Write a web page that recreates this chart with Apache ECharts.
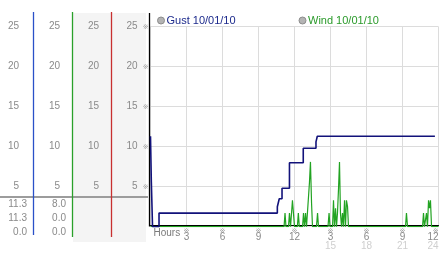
<!DOCTYPE html>
<html><head><meta charset="utf-8">
<script src="https://cdn.jsdelivr.net/npm/echarts@6/dist/echarts.min.js"></script>
<style>html,body{margin:0;padding:0;background:#fff}#c{width:442px;height:253px}</style>
</head><body><div id="c"></div>
<script>
// ---- data ----
const gustName = 'Gust 10/01/10';
const windName = 'Wind 10/01/10';
const yTicks = [5, 10, 15, 20, 25];
const hourTicks = [0, 3, 6, 9, 12, 15, 18, 21, 24];
const gustHours  = [0,    0.07, 0.17, 0.71, 10.57, 10.73, 10.96, 11.58, 12.73, 13.79, 13.9, 23.7];
const gustValues = [11.3, 5.6,  0,    1.7,  2.5,   3.5,   4.8,   8.0,   9.8,   10.6,  11.3, 11.3];
const windHours = [0, 11.13, 11.21, 11.29, 11.5, 11.58, 11.67, 11.75, 11.83, 11.92, 12.0,
  12.24, 12.32, 12.4, 12.67, 12.75, 12.83, 12.92, 13.0, 13.08, 13.25, 13.33, 13.42, 13.5,
  13.83, 13.92, 14.0, 14.79, 14.88, 14.96, 15.17, 15.25, 15.33, 15.42, 15.5, 15.58, 15.67,
  15.75, 15.83, 15.92, 16.0, 16.08, 16.17, 16.25, 16.33, 16.42, 16.5,
  21.25, 21.33, 21.42, 22.67, 22.75, 22.83, 22.92, 23.0, 23.08, 23.17, 23.25, 23.33, 23.42, 24];
const windValues = [0, 0, 1.7, 0, 0, 1.7, 0, 0, 3.3, 3.3, 0,
  0, 1.7, 0, 0, 1.7, 0, 1.7, 0, 0, 5.6, 8.1, 3.0, 0,
  0, 1.7, 0, 0, 1.7, 0, 0, 3.3, 0, 2.3, 0, 1.7, 4.8,
  8.1, 1.7, 0, 1.7, 0, 3.3, 0, 3.3, 2.5, 0,
  0, 1.7, 0, 0, 1.7, 0, 0, 1.7, 0, 3.3, 2.3, 3.3, 0, 0];
const gustSummary = ['11.3', '11.3', '0.0'];
const windSummary = ['8.0', '0.0', '0.0'];

// ---- chart ----
const FONT = 'Liberation Sans';
const LAB = '#8a8a8a';
const chart = echarts.init(document.getElementById('c'));
const pair = (xs, ys) => xs.map((x, i) => [x, ys[i]]);

function plainY(offset) {
  return {
    type: 'value', min: 0, max: 25, interval: 5, position: 'left', offset: offset,
    axisLine: {show: false}, axisTick: {show: false}, splitLine: {show: false},
    axisLabel: {margin: 0, color: LAB, fontSize: 10, fontFamily: FONT,
      formatter: v => yTicks.includes(v) ? String(v) : ''}
  };
}

const summaryTexts = [];
[[gustSummary, 27], [windSummary, 66]].forEach(([arr, xr]) => {
  arr.forEach((s, i) => summaryTexts.push({
    type: 'text', x: xr, y: 204 + i * 14, z: 5,
    style: {text: s, fill: LAB, font: '10px "Liberation Sans"', textAlign: 'right', textVerticalAlign: 'middle'}
  }));
});

const vline = (x, y1, y2, c, w) => ({type: 'line', z: 4, shape: {x1: x, y1: y1, x2: x, y2: y2}, style: {stroke: c, lineWidth: w || 1}});

const option = {
  animation: false,
  backgroundColor: '#fff',
  textStyle: {fontFamily: FONT},
  grid: {left: 150.5, right: 3.5, top: 26.7, bottom: 26.3},
  legend: [
    {data: [{name: gustName, itemStyle: {color: '#b4b4b4', borderColor: '#8c8c8c', borderWidth: 1}, textStyle: {color: '#1c2a8c'}}],
     left: 157, top: 15, padding: 0, icon: 'circle', itemWidth: 7, itemHeight: 7, selectedMode: false,
     textStyle: {fontSize: 11, fontFamily: FONT, padding: [0, 0, 0, -3]}},
    {data: [{name: windName, itemStyle: {color: '#b4b4b4', borderColor: '#8c8c8c', borderWidth: 1}, textStyle: {color: '#2a9a2a'}}],
     left: 298.5, top: 15, padding: 0, icon: 'circle', itemWidth: 7, itemHeight: 7, selectedMode: false,
     textStyle: {fontSize: 11, fontFamily: FONT, padding: [0, 0, 0, -3]}}
  ],
  xAxis: {
    type: 'value', min: 0, max: 24, interval: 3, offset: -1,
    axisLine: {lineStyle: {color: '#000', width: 1}},
    axisTick: {show: false},
    splitLine: {lineStyle: {color: '#dcdcdc'}},
    axisLabel: {
      margin: 3, alignMinLabel: 'left', alignMaxLabel: 'right',
      formatter: v => {
        if (!hourTicks.includes(v)) return '';
        if (v === 0) return '{h|Hours}';
        if (v <= 12) return '{m|※}\n{a|' + v + '}';
        return '{m|※}\n{a|' + (v - 12) + '}\n{b|' + v + '}';
      },
      rich: {
        h: {fontSize: 10, lineHeight: 9, color: '#7a7a7a', fontFamily: FONT, padding: [0, 0, 0, 3]},
        m: {fontSize: 7, lineHeight: 5, color: '#a0a0a0', fontFamily: 'DejaVu Sans'},
        a: {fontSize: 10, lineHeight: 7, color: LAB, fontFamily: FONT},
        b: {fontSize: 10, lineHeight: 11, color: '#cfcfcf', fontFamily: FONT}
      }
    }
  },
  yAxis: [
    {
      type: 'value', min: 0, max: 25, interval: 5, position: 'left',
      axisLine: {show: false}, axisTick: {show: false},
      splitLine: {lineStyle: {color: '#dcdcdc'}},
      axisLabel: {
        margin: 2,
        formatter: v => yTicks.includes(v) ? '{a|' + v + '}{g| }{m|※}' : '',
        rich: {
          a: {fontSize: 10, color: LAB, fontFamily: FONT},
          g: {fontSize: 10, width: 5},
          m: {fontSize: 7, color: '#a0a0a0', fontFamily: 'DejaVu Sans'}
        }
      }
    },
    plainY(51.5),
    plainY(90.5),
    plainY(131.5)
  ],
  series: [
    {name: windName, type: 'line', data: pair(windHours, windValues), showSymbol: false,
     lineStyle: {color: '#22a322', width: 1.2}, itemStyle: {color: '#22a322'}, z: 3},
    {name: gustName, type: 'line', step: 'end', data: pair(gustHours, gustValues), showSymbol: false,
     lineStyle: {color: '#12127a', width: 1.6}, itemStyle: {color: '#12127a'}, z: 4}
  ],
  graphic: [
    {type: 'rect', z: -10, shape: {x: 73, y: 13, width: 73, height: 229}, style: {fill: '#f4f4f4'}},
    {type: 'line', z: 3, shape: {x1: 0, y1: 197, x2: 148, y2: 197}, style: {stroke: '#9c9c9c', lineWidth: 2}},
    vline(33.5, 12, 235, '#2a50c8', 1.3),
    vline(72.5, 12, 237, '#2aa02a', 1.3),
    vline(111.5, 12, 237, '#c83030', 1.3),
    vline(149.5, 13, 226.5, '#000', 1.3)
  ].concat(summaryTexts)
};
chart.setOption(option);
</script>
</body></html>
